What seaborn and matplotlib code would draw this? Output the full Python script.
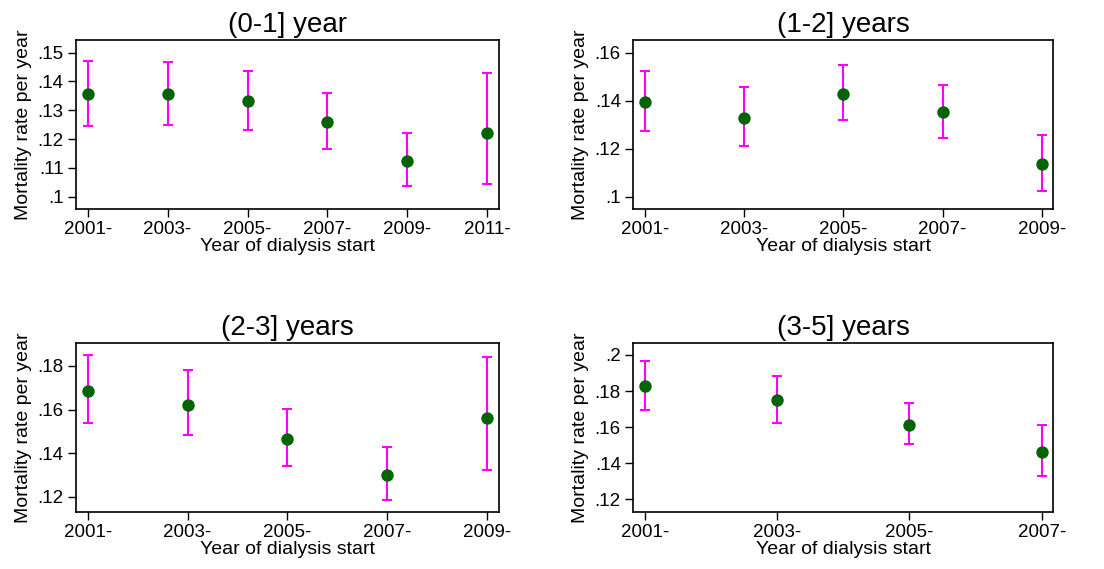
import numpy as np
import pandas as pd
import matplotlib
matplotlib.use("Agg")
import matplotlib.pyplot as plt
import seaborn as sns

# ─── DATA ────────────────────────────────────────────────────────────────────
titles = ["(0-1] year", "(1-2] years", "(2-3] years", "(3-5] years"]

years_p1 = [2001, 2003, 2005, 2007, 2009, 2011]
rate_p1 = [0.1355, 0.1355, 0.1331, 0.1259, 0.1125, 0.1222]
lo_p1 = [0.1247, 0.1249, 0.1233, 0.1164, 0.1038, 0.1045]
hi_p1 = [0.1472, 0.1469, 0.1435, 0.1359, 0.1221, 0.1431]

years_p2 = [2001, 2003, 2005, 2007, 2009]
rate_p2 = [0.1394, 0.1329, 0.1426, 0.1351, 0.1138]
lo_p2 = [0.1275, 0.1213, 0.1318, 0.1243, 0.1026]
hi_p2 = [0.1525, 0.1456, 0.1549, 0.1464, 0.1258]

years_p3 = [2001, 2003, 2005, 2007, 2009]
rate_p3 = [0.1687, 0.1623, 0.1466, 0.1302, 0.1560]
lo_p3 = [0.1537, 0.1482, 0.1342, 0.1188, 0.1324]
hi_p3 = [0.1852, 0.1782, 0.1602, 0.1431, 0.1840]

years_p4 = [2001, 2003, 2005, 2007]
rate_p4 = [0.1828, 0.1750, 0.1614, 0.1462]
lo_p4 = [0.1695, 0.1625, 0.1505, 0.1329]
hi_p4 = [0.1967, 0.1884, 0.1734, 0.1612]

yticks_p1 = [0.10, 0.11, 0.12, 0.13, 0.14, 0.15]
yticks_p2 = [0.10, 0.12, 0.14, 0.16]
yticks_p3 = [0.12, 0.14, 0.16, 0.18]
yticks_p4 = [0.12, 0.14, 0.16, 0.18, 0.20]

# ─── STYLE ───────────────────────────────────────────────────────────────────
sns.set_theme(style="white")
plt.rcParams["font.family"] = ["Liberation Sans", "DejaVu Sans"]
plt.rcParams["text.color"] = "black"
plt.rcParams["axes.labelcolor"] = "black"

POINT = "#006400"
BAR = "#FF00FF"

panels = [
    (years_p1, rate_p1, lo_p1, hi_p1, yticks_p1, (0.0957, 0.1544), [0.0688, 0.6327, 0.3832, 0.2970]),
    (years_p2, rate_p2, lo_p2, hi_p2, yticks_p2, (0.0949, 0.1653), [0.5737, 0.6327, 0.3804, 0.2970]),
    (years_p3, rate_p3, lo_p3, hi_p3, yticks_p3, (0.1131, 0.1904), [0.0688, 0.1002, 0.3832, 0.2965]),
    (years_p4, rate_p4, lo_p4, hi_p4, yticks_p4, (0.1129, 0.2065), [0.5737, 0.1002, 0.3804, 0.2965]),
]


def stata_label(v):
    # Stata style: .1, .12, .2
    return f"{v:.2f}".lstrip("0").rstrip("0").rstrip(".")


fig = plt.figure(figsize=(11.04, 5.69), dpi=100)

for title, (yrs, rate, lo, hi, yt, ylim, pos) in zip(titles, panels):
    ax = fig.add_axes(pos)
    df = pd.DataFrame({"year": yrs, "rate": rate, "lo": lo, "hi": hi})

    ax.errorbar(df["year"], df["rate"],
                yerr=[df["rate"] - df["lo"], df["hi"] - df["rate"]],
                fmt="none", ecolor=BAR, elinewidth=1.5, capsize=3.8, capthick=1.5, zorder=2)
    sns.scatterplot(data=df, x="year", y="rate", ax=ax, color=POINT, s=80,
                    edgecolor=POINT, linewidth=0, zorder=3)

    pad = 0.0293 * (yrs[-1] - yrs[0])
    ax.set_xlim(yrs[0] - pad, yrs[-1] + pad)
    ax.set_ylim(*ylim)
    ax.set_xticks(yrs)
    ax.set_xticklabels([f"{y}-" for y in yrs])
    ax.set_yticks(yt)
    ax.set_yticklabels([stata_label(v) for v in yt])

    ax.tick_params(axis="both", which="major", direction="out", length=6, width=1,
                   color="black", labelsize=13.5, labelcolor="black", pad=3,
                   bottom=True, left=True)
    for sp in ax.spines.values():
        sp.set_color("black")
        sp.set_linewidth(1.2)

    ax.set_title(title, fontsize=20, pad=6, color="black")
    ax.set_xlabel("Year of dialysis start", fontsize=14, labelpad=0)
    ax.set_ylabel("Mortality rate per year", fontsize=14, labelpad=4)

fig.savefig("out.png", dpi=100)
